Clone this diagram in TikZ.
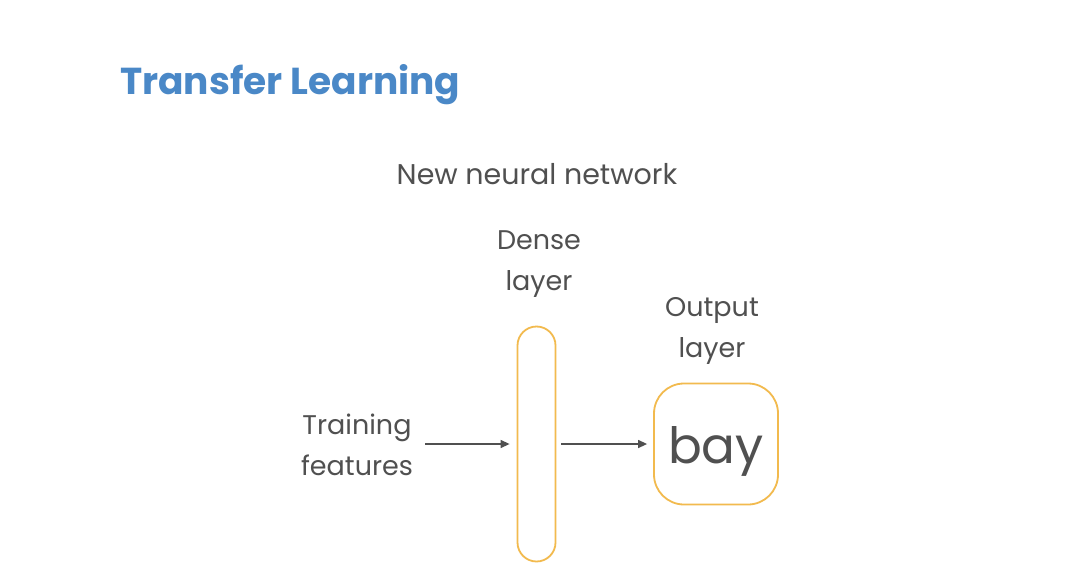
\documentclass[tikz,border=0pt]{standalone}
\usepackage{fontspec}
\setmainfont{Poppins}
\usetikzlibrary{arrows.meta}
\definecolor{titleblue}{HTML}{4A88C7}
\definecolor{textgray}{HTML}{505050}
\definecolor{layerorange}{HTML}{F2BA4E}
\begin{document}
\begin{tikzpicture}[x=1pt,y=-1pt,
  lbl/.style={text=textgray,font=\fontsize{27}{41}\selectfont,align=center,inner sep=0pt},
  layerbox/.style={draw=layerorange,line width=1.8pt},
  flow/.style={draw=textgray,line width=1.3pt,-{Triangle[length=9pt,width=8pt]}}]
\useasboundingbox (0,0) rectangle (1075,567);
\fill[white] (0,0) rectangle (1075,567);
% title
\node[anchor=base west,inner sep=0pt,text=titleblue,font=\fontsize{37.5}{44}\selectfont\bfseries] (title) at (120,95) {Transfer Learning};
\node[lbl,anchor=base,font=\fontsize{28.5}{41}\selectfont] (net) at (537,184) {New neural network};
% dense layer and its label (base = last line)
\node[lbl,anchor=base] (denselbl) at (539,290) {Dense\\layer};
\node[layerbox,rounded corners=19pt,minimum width=38pt,minimum height=235pt,inner sep=0pt] (dense) at (536.5,444) {};
% output layer
\node[lbl,anchor=base] (outlbl) at (712,357) {Output\\layer};
\node[layerbox,rounded corners=30pt,minimum width=124pt,minimum height=121pt,inner sep=0pt] (out) at (716,444) {};
\node[anchor=base,inner sep=0pt,text=textgray,font=\fontsize{50}{56}\selectfont] (word) at (716,463) {bay};
% input features
\node[lbl,anchor=base] (feat) at (357,475) {Training\\features};
\coordinate (a1s) at (425,444);
\draw[flow] (a1s) -- ([xshift=-7pt]dense.west);
\draw[flow] ([xshift=5pt]dense.east) -- ([xshift=-6pt]out.west);
\end{tikzpicture}
\end{document}
